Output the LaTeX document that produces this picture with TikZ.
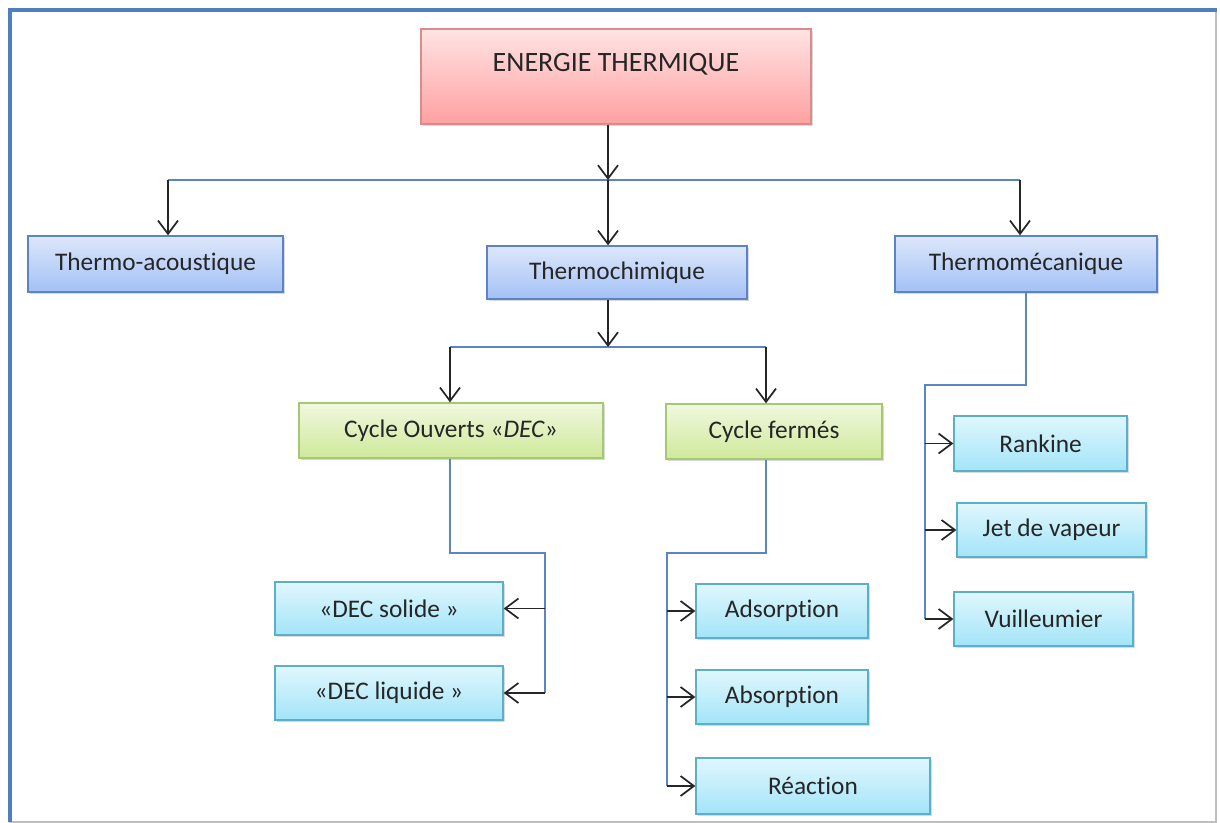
\documentclass[tikz,border=0pt]{standalone}
\usepackage{fontspec}
\setmainfont{Carlito}[Ligatures=NoCommon]
\usetikzlibrary{calc,arrows.meta,shadows}
\definecolor{FrameBlue}{HTML}{4F7FBE}
\definecolor{WireBlue}{HTML}{5B84C4}
\definecolor{TitleTop}{HTML}{FFE3E3}
\definecolor{TitleBot}{HTML}{FFA1A1}
\definecolor{TitleLine}{HTML}{D98C8C}
\definecolor{ChoiceTop}{HTML}{DDE7FB}
\definecolor{ChoiceBot}{HTML}{A3C1F5}
\definecolor{ChoiceLine}{HTML}{5B83C9}
\definecolor{CycleTop}{HTML}{F0F8DF}
\definecolor{CycleBot}{HTML}{CFE99A}
\definecolor{CycleLine}{HTML}{A5C873}
\definecolor{LeafTop}{HTML}{E0F7FD}
\definecolor{LeafBot}{HTML}{A3E4F8}
\definecolor{LeafLine}{HTML}{5AAFCB}

\begin{document}
\begin{tikzpicture}[x=0.75pt,y=-0.75pt,
    box/.style={rectangle,draw,line width=1pt,inner sep=0pt,text=black!85,
      font=\fontsize{19}{22}\selectfont,
      drop shadow={shadow xshift=1.5pt,shadow yshift=-1.5pt,opacity=0.3}},
    size/.style 2 args={minimum width=#1*0.75pt,minimum height=#2*0.75pt},
    titlebox/.style={box,draw=TitleLine,top color=TitleTop,bottom color=TitleBot,
      font=\fontsize{21}{24}\selectfont,text depth=21pt},
    choicebox/.style={box,draw=ChoiceLine,top color=ChoiceTop,bottom color=ChoiceBot},
    cyclebox/.style={box,draw=CycleLine,top color=CycleTop,bottom color=CycleBot},
    leafbox/.style={box,draw=LeafLine,top color=LeafTop,bottom color=LeafBot},
    wire/.style={WireBlue,line width=1pt},
    arr/.style={black!85,line width=1.3pt,-{Straight Barb[length=10pt,width=15pt,line width=1.3pt]}}]
    \useasboundingbox (0,0) rectangle (1220,823);

    % frame round the picture
    \draw[black!25,line width=0.8pt] (10,10) rectangle (1216,822);
    \draw[FrameBlue,line width=3.5pt] (10,822) -- (10,10) -- (1217,10);

    % boxes
    \node[titlebox,size={390}{95}] (energie) at (616,76.5) {ENERGIE THERMIQUE};
    \node[choicebox,size={255}{56}] (acoustique) at (155.5,264) {Thermo-acoustique};
    \node[choicebox,size={260}{53}] (chimique) at (617,272.5) {Thermochimique};
    \node[choicebox,size={262}{56}] (mecanique) at (1026,264) {Thermomécanique};
    \node[cyclebox,size={304}{55}] (ouverts) at (451,430.5) {Cycle Ouverts «\textit{DEC}»};
    \node[cyclebox,size={216}{55}] (fermes) at (774,431.5) {Cycle fermés};
    \node[leafbox,size={228}{53}] (solide) at (389,608.5) {«DEC solide~»};
    \node[leafbox,size={228}{54}] (liquide) at (389,693) {«DEC liquide~»};
    \node[leafbox,size={172}{54}] (adsorption) at (782,611) {Adsorption};
    \node[leafbox,size={172}{54}] (absorption) at (782,697) {Absorption};
    \node[leafbox,size={234}{56}] (reaction) at (813,786) {Réaction};
    \node[leafbox,size={173}{55}] (rankine) at (1040.5,443.5) {Rankine};
    \node[leafbox,size={189}{54}] (jet) at (1051.5,530) {Jet de vapeur};
    \node[leafbox,size={179}{54}] (vuilleumier) at (1043.5,619) {Vuilleumier};

    % first level
    \coordinate (ForkA) at (168,180);
    \coordinate (ForkB) at (608,180);
    \coordinate (ForkC) at (1020,180);
    \draw[wire] (ForkA) -- (ForkC);
    \draw[arr] (ForkB |- energie.south) -- (ForkB);
    \foreach \f/\n in {ForkA/acoustique,ForkB/chimique,ForkC/mecanique}{%
      \draw[arr] (\f) -- (\f |- \n.north);
    }

    % thermochimique: two kinds of cycle
    \coordinate (ForkD) at (450,347);
    \coordinate (ForkE) at (766,347);
    \draw[wire] (ForkD) -- (ForkE);
    \draw[arr] (ForkB |- chimique.south) -- (ForkB |- ForkD);
    \foreach \f/\n in {ForkD/ouverts,ForkE/fermes}{%
      \draw[arr] (\f) -- (\f |- \n.north);
    }

    % branches down to the leaves
    \coordinate (BendO) at (545,553);
    \coordinate (BendF) at (667,553);
    \coordinate (BendM) at (925,385);
    \draw[wire] (ForkD |- ouverts.south) |- (BendO) -- (BendO |- liquide.east);
    \draw[wire] (ForkE |- fermes.south) |- (BendF) -- (BendF |- reaction.west);
    \draw[wire] (mecanique.south) |- (BendM) -- (BendM |- vuilleumier.west);
    \foreach \n in {solide,liquide}{%
      \draw[arr] (BendO |- \n.east) -- (\n.east);
    }
    \foreach \n in {adsorption,absorption,reaction}{%
      \draw[arr] (BendF |- \n.west) -- (\n.west);
    }
    \foreach \n in {rankine,jet,vuilleumier}{%
      \draw[arr] (BendM |- \n.west) -- (\n.west);
    }
\end{tikzpicture}
\end{document}
